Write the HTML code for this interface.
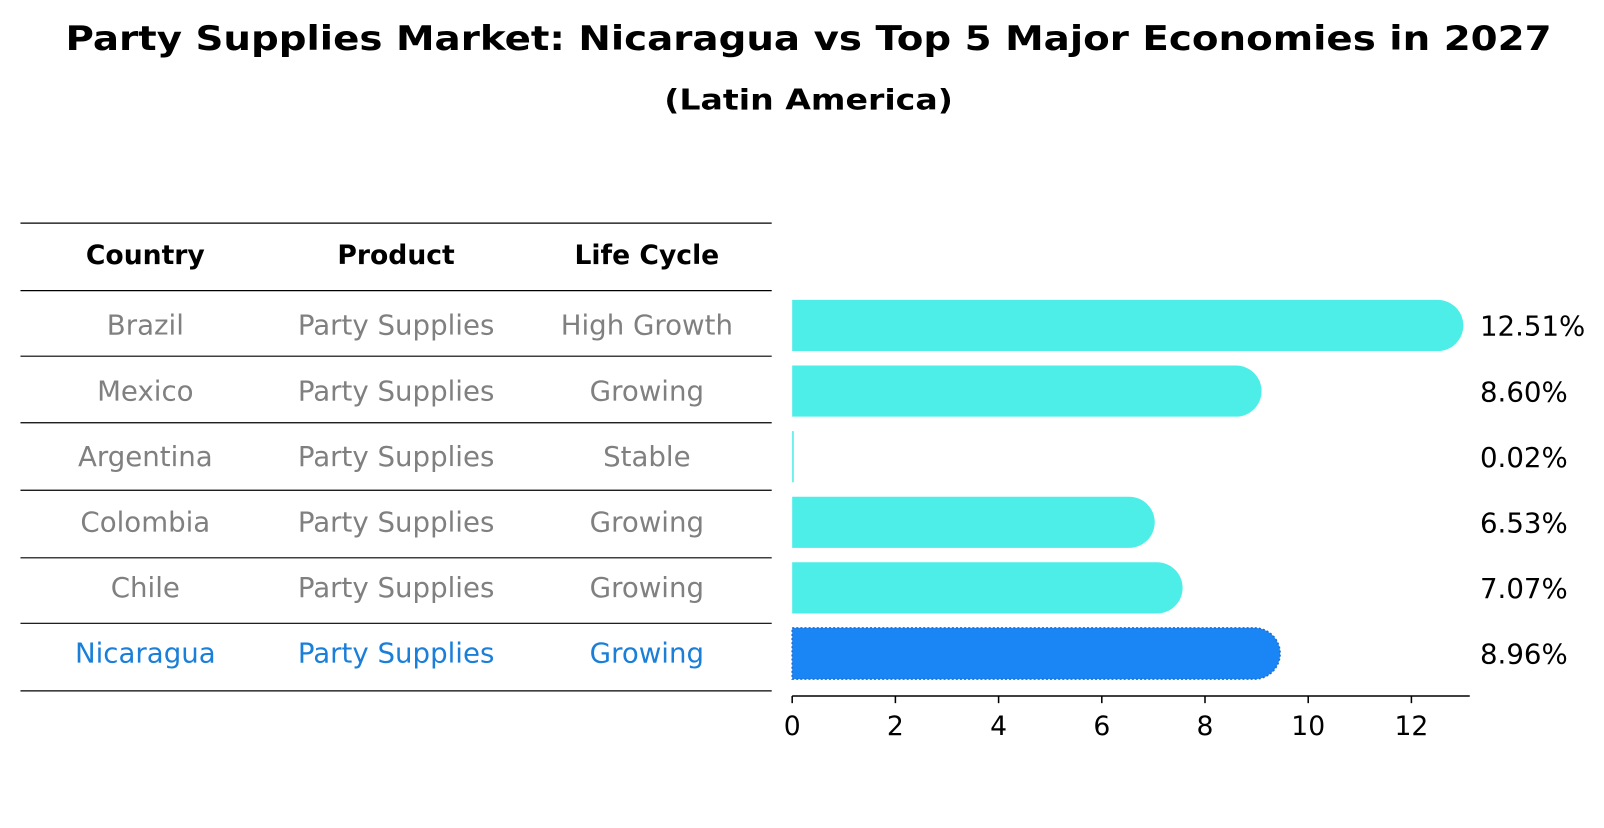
<!DOCTYPE html>
<html><head><meta charset="utf-8"><style>
body{margin:0;background:#fff;font-family:"Liberation Sans","DejaVu Sans",sans-serif;}
</style></head><body>
<svg id="chart" width="1604" height="823" xmlns="http://www.w3.org/2000/svg" font-family="DejaVu Sans, Liberation Sans, sans-serif">
<g transform="scale(1.0235)">
<text x="790" y="49" text-anchor="middle" font-size="33" font-weight="bold" textLength="1452" lengthAdjust="spacingAndGlyphs">Party Supplies Market: Nicaragua vs Top 5 Major Economies in 2027</text>
<text x="790" y="107" text-anchor="middle" font-size="28" font-weight="bold" textLength="282" lengthAdjust="spacingAndGlyphs">(Latin America)</text>
<g id="table"></g>
<g id="bars"></g>
</g>
</svg>
<script>
const countries=["Brazil","Mexico","Argentina","Colombia","Chile","Nicaragua"];
const products=["Party Supplies","Party Supplies","Party Supplies","Party Supplies","Party Supplies","Party Supplies"];
const lifeCycles=["High Growth","Growing","Stable","Growing","Growing","Growing"];
const values=[12.51,8.60,0.02,6.53,7.07,8.96];
const ticks=[0,2,4,6,8,10,12];
const NS="http://www.w3.org/2000/svg";
function mk(t,a,p,txt){const e=document.createElementNS(NS,t);for(const k in a)e.setAttribute(k,a[k]);if(txt!==undefined)e.textContent=txt;p.appendChild(e);return e;}
const tb=document.getElementById('table'),bg=document.getElementById('bars');
const lineYs=[218,284,348,413,479,545,609,675];
const colX=[142,387,632];
lineYs.forEach((y,i)=>{const l=mk('line',{x1:20,x2:754,y1:y,y2:y,stroke:'#000','stroke-width':1.2},tb);

});
["Country","Product","Life Cycle"].forEach((h,i)=>{const t=mk('text',{x:colX[i],y:258,'text-anchor':'middle','font-size':26,'font-weight':'bold'},tb,h);

});
function x(v){return 774+v*(1379-774)/12;}
function rowY(i){return 318+i*64.1;}
countries.forEach((c,i)=>{const last=i===countries.length-1;const col=last?'#1a7fd9':'#808080';
[c,products[i],lifeCycles[i]].forEach((s,j)=>{const t=mk('text',{x:colX[j],y:rowY(i)+9,'text-anchor':'middle','font-size':27,fill:col},tb,s);

});
const y=rowY(i),h=50,r=25,x0=x(0),x1=x(values[i]);
let b;
if(values[i]<0.2){b=mk('rect',{x:x0,y:y-h/2,width:Math.max(1.5,x1-x0),height:h,fill:'#4deee8'},bg);}
else{b=mk('path',{d:`M${x0},${y-h/2} H${x1} A${r},${r} 0 0 1 ${x1},${y+h/2} H${x0} Z`,fill:last?'#1a85f5':'#4deee8',stroke:last?'#1f6fd0':'none','stroke-dasharray':last?'2,2':'none','stroke-width':1.5},bg);}


const lt=mk('text',{x:1446,y:y+10,'font-size':27},bg,values[i].toFixed(2)+'%');

});
const ax=mk('line',{x1:774,x2:1436,y1:680,y2:680,stroke:'#000','stroke-width':1.5},bg);


ticks.forEach(t=>{const tl=mk('line',{x1:x(t),x2:x(t),y1:680,y2:687,stroke:'#000','stroke-width':1.5},bg);


const tt=mk('text',{x:x(t),y:718,'text-anchor':'middle','font-size':26},bg,String(t));

});
</script>
</body></html>
